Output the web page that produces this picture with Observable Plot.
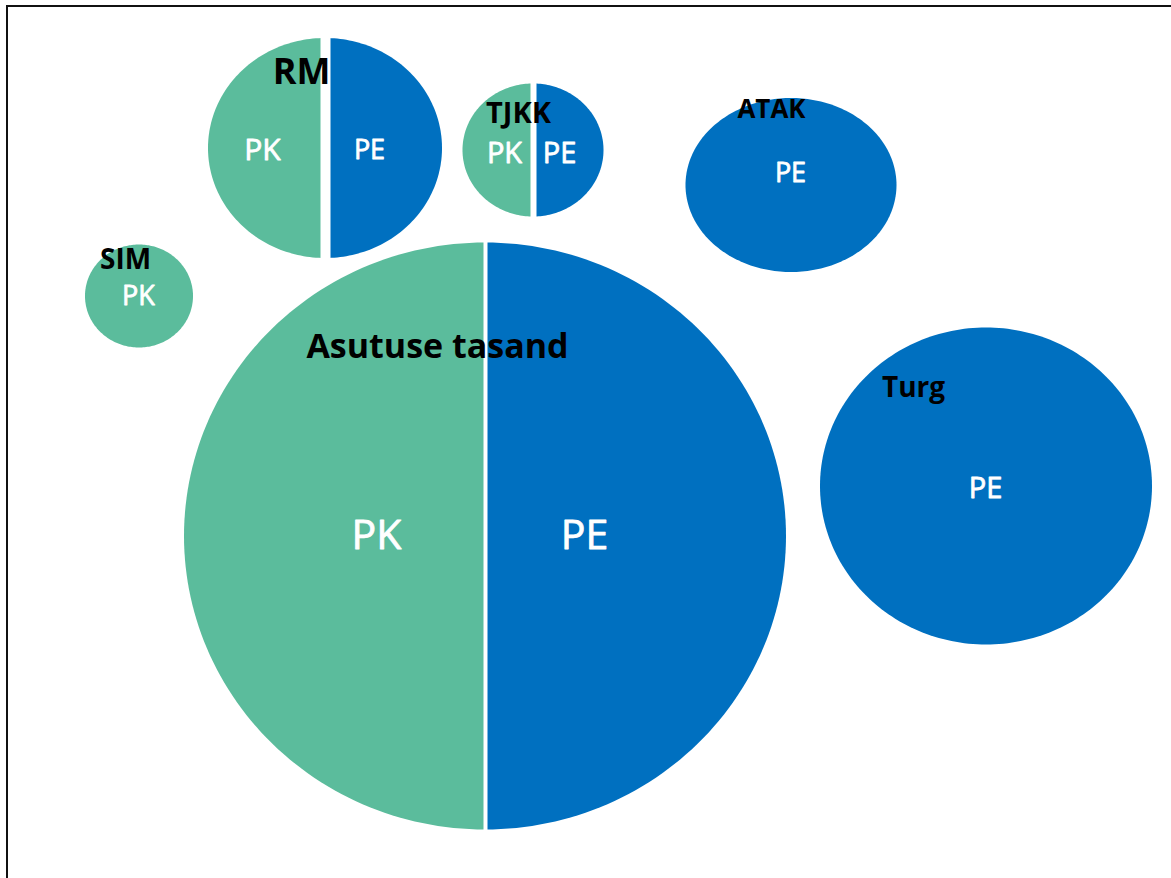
<!DOCTYPE html>
<html><head><meta charset="utf-8">
<script src="https://cdn.jsdelivr.net/npm/d3@7"></script>
<script src="https://cdn.jsdelivr.net/npm/@observablehq/plot@0.6"></script>
<style>
html,body{margin:0;padding:0;background:#fff;}
#wrap{position:relative;width:1171px;height:878px;overflow:hidden;}
#chart{position:absolute;left:0;top:0;}
#frame{position:absolute;left:6px;top:5px;right:-10px;bottom:-10px;border-top:2px solid #111;border-left:2px solid #111;pointer-events:none;}
</style></head><body>
<div id="wrap"><div id="chart"></div><div id="frame"></div></div>
<script>
// ---- data ----
const bubbleNames = ["RM", "TJKK", "ATAK", "SIM", "Asutuse tasand", "Turg"];
const bubbleX     = [325, 533, 791, 139, 485, 986];
const bubbleY     = [148, 150, 185, 296, 536, 486];
const bubbleRx    = [117, 70.5, 105.5, 54, 301, 166];
const bubbleRy    = [110, 66.5, 87, 51.5, 293.5, 158.5];

const segBubble = ["RM", "RM", "TJKK", "TJKK", "ATAK", "SIM", "Asutuse tasand", "Asutuse tasand", "Turg"];
const segType   = ["PK", "PE", "PK", "PE", "PE", "PK", "PK", "PE", "PE"];
const segSide   = ["left", "right", "left", "right", "full", "full", "left", "right", "full"];

const nameLabelX = [301, 518, 771, 125, 437, 913];
const nameLabelY = [83, 122, 117, 268, 357, 396];

const segLabelX = [262, 369, 504, 559, 790, 138, 376, 584, 985];
const segLabelY = [159, 158, 162, 162, 181, 304, 548, 548, 497];

// ---- style ----
const colors = {PK: "#5BBC9C", PE: "#0070C0"};
const nameFont = [36, 29, 26, 28, 34, 28];
const segFont = [30, 27, 29, 29, 27, 27, 41, 41, 29];
const splitGap = {"RM": 10, "TJKK": 6, "Asutuse tasand": 4};

// ---- build tables ----
const bubbles = bubbleNames.map((n, i) => ({name: n, cx: bubbleX[i], cy: bubbleY[i], rx: bubbleRx[i], ry: bubbleRy[i]}));
const byName = Object.fromEntries(bubbles.map(b => [b.name, b]));

const points = [];
segBubble.forEach((bn, i) => {
  const b = byName[bn];
  const key = bn + "-" + segType[i];
  for (let a = -90; a <= 90; a += 1.5) {
    const t = a * Math.PI / 180;
    const y = b.cy + b.ry * Math.sin(t);
    const h = b.rx * Math.cos(t);
    let x1, x2;
    if (segSide[i] === "left") { x1 = b.cx - h; x2 = b.cx; }
    else if (segSide[i] === "right") { x1 = b.cx; x2 = b.cx + h; }
    else { x1 = b.cx - h; x2 = b.cx + h; }
    points.push({key, type: segType[i], y, x1, x2});
  }
});

const splits = bubbles.filter(b => splitGap[b.name] != null).map(b => ({...b, gap: splitGap[b.name]}));

const nameLabels = bubbleNames.map((n, i) => ({text: n, x: nameLabelX[i], y: nameLabelY[i], size: nameFont[i]}));
const segLabels = segType.map((t, i) => ({text: t, x: segLabelX[i], y: segLabelY[i], size: segFont[i]}));

const chart = Plot.plot({
  width: 1171,
  height: 878,
  margin: 0,
  x: {domain: [0, 1171], axis: null},
  y: {domain: [0, 878], range: [0, 878], axis: null},
  color: {domain: ["PK", "PE"], range: [colors.PK, colors.PE]},
  style: {fontFamily: "'Open Sans', 'DejaVu Sans', sans-serif", background: "white"},
  marks: [
    Plot.areaX(points, {y: "y", x1: "x1", x2: "x2", z: "key", fill: "type", curve: "linear"}),
    Plot.ruleX(splits, {x: "cx", y1: d => d.cy - d.ry - 2, y2: d => d.cy + d.ry + 2, stroke: "white", strokeWidth: "gap"}),
    Plot.text(segLabels, {x: "x", y: "y", text: "text", fontSize: "size", fill: "white", stroke: "white", strokeWidth: 0.8, lineAnchor: "bottom", textAnchor: "middle"}),
    Plot.text(nameLabels, {x: "x", y: "y", text: "text", fontSize: "size", fill: "black", fontWeight: "bold", lineAnchor: "bottom", textAnchor: "middle"})
  ]
});
document.getElementById("chart").appendChild(chart);
</script>
</body></html>
